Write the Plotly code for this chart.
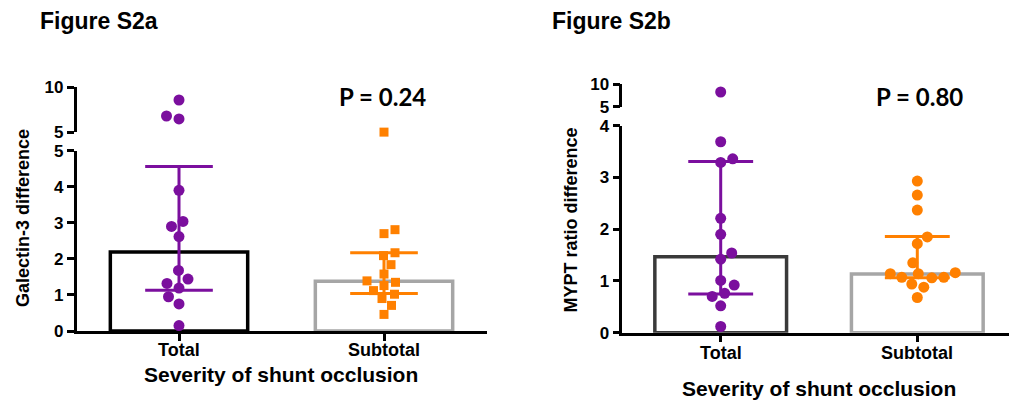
import plotly.graph_objects as go

# ---------------- data ----------------
categories = ["Total", "Subtotal"]

total_a = [8.59, 6.81, 6.48, 3.90, 3.04, 2.90, 2.62, 1.68, 1.44, 1.32, 1.19, 0.95, 0.75, 0.15]
subtotal_a = [5.02, 2.81, 2.70, 2.17, 2.09, 1.84, 1.58, 1.39, 1.35, 1.26, 1.12, 1.02, 0.90, 0.71, 0.46]
bars_a = [2.19, 1.38]
err_lo_a = [1.13, 1.04]
err_hi_a = [4.56, 2.17]

total_b = [8.24, 3.69, 3.36, 3.29, 2.21, 1.90, 1.54, 1.42, 1.01, 0.92, 0.76, 0.70, 0.52, 0.12]
subtotal_b = [2.93, 2.66, 2.37, 1.85, 1.72, 1.35, 1.16, 1.14, 1.14, 1.07, 1.07, 1.06, 0.94, 0.88, 0.68]
bars_b = [1.47, 1.135]
err_lo_b = [0.75, 1.06]
err_hi_b = [3.31, 1.86]

lower_ticks_a = [0, 1, 2, 3, 4, 5]
lower_ticks_b = [0, 1, 2, 3, 4]
upper_ticks = [5, 10]

p_values = ["P = 0.24", "P = 0.80"]
panel_titles = ["Figure S2a", "Figure S2b"]
y_titles = ["Galectin-3 difference", "MYPT ratio difference"]
x_title = "Severity of shunt occlusion"

# ---------------- layout constants (pixels) ----------------
W, H = 1009, 400
PURPLE = "#7b0f9e"
ORANGE = "#ff8000"
FONT = "Arial, Liberation Sans, sans-serif"

panels = [
    dict(x0=76.5, x1=486.5, cat_px=205.0,
         low=(331.0, 150.7, 0, 5), up=(132.3, 87.3, 5, 10),
         lticks=lower_ticks_a, total=total_a, sub=subtotal_a,
         bars=bars_a, lo=err_lo_a, hi=err_hi_a,
         bar_colors=["#000000", "#a6a6a6"], sub_symbol="square",
         ytitle_pos=(23, 218), xtick_y=350, xtitle_pos=(280.5, 374), p_pos=(382, 96),
         title_pos=(37.5, 21)),
    dict(x0=622.4, x1=1009.0, cat_px=196.6,
         low=(332.7, 125.7, 0, 4), up=(106.7, 84.0, 5, 10),
         lticks=lower_ticks_b, total=total_b, sub=subtotal_b,
         bars=bars_b, lo=err_lo_b, hi=err_hi_b,
         bar_colors=["#3a3a3a", "#a6a6a6"], sub_symbol="circle",
         ytitle_pos=(570.5, 220), xtick_y=353, xtitle_pos=(818.5, 388), p_pos=(919, 96),
         title_pos=(550, 21)),
]


def ypx(v, p):
    if v > p["low"][3]:
        b, t, lo, hi = p["up"]
    else:
        b, t, lo, hi = p["low"]
    return b - (v - lo) / (hi - lo) * (b - t)


def swarm(values, p, diam):
    order = sorted(range(len(values)), key=lambda i: values[i])
    placed = []
    offs = [0.0] * len(values)
    for n, i in enumerate(order):
        y = ypx(values[i], p)
        pref = (-1, 1) if n % 2 == 0 else (1, -1)
        best = None
        for k in range(0, 400):
            sides = (1,) if k == 0 else pref
            for s in sides:
                dx = s * k * 0.5
                if all((dx - qx) ** 2 + (y - qy) ** 2 >= diam * diam for qx, qy in placed):
                    best = dx
                    break
            if best is not None:
                break
        placed.append((best, y))
        offs[i] = best / p["cat_px"]
    return offs


fig = go.Figure()
layout = dict(width=W, height=H, margin=dict(l=0, r=0, t=0, b=0, pad=0),
              paper_bgcolor="white", plot_bgcolor="white", showlegend=False)
annotations = []

axis_common = dict(showline=True, linecolor="black", linewidth=2.5, ticks="outside",
                   ticklen=7, tickwidth=2.5, tickcolor="black", showgrid=False,
                   zeroline=False, fixedrange=True, automargin=False)

for idx, p in enumerate(panels):
    xn = "x" if idx == 0 else "x2"
    yl = "y" if idx == 0 else "y3"
    yu = "y2" if idx == 0 else "y4"
    xkey = "xaxis" if idx == 0 else "xaxis2"
    ylkey = "yaxis" if idx == 0 else "yaxis3"
    yukey = "yaxis2" if idx == 0 else "yaxis4"

    xr_max = -0.5 + (p["x1"] - p["x0"]) / p["cat_px"]
    layout[xkey] = dict(domain=[p["x0"] / W, p["x1"] / W], range=[-0.5, xr_max], anchor=yl,
                        tickvals=list(range(len(categories))), showticklabels=False,
                        **axis_common)
    b, t, lo, hi = p["low"]
    layout[ylkey] = dict(domain=[1 - b / H, 1 - t / H], range=[lo, hi], anchor=xn,
                         tickvals=p["lticks"], ticktext=[str(v) for v in p["lticks"]],
                         tickfont=dict(family=FONT, size=17, color="black", weight="bold"),
                         **axis_common)
    b, t, lo, hi = p["up"]
    layout[yukey] = dict(domain=[1 - b / H, 1 - t / H], range=[lo, hi], anchor=xn,
                         tickvals=upper_ticks, ticktext=[str(v) for v in upper_ticks],
                         tickfont=dict(family=FONT, size=17, color="black", weight="bold"),
                         **axis_common)

    # bars
    fig.add_trace(go.Bar(x=list(range(len(categories))), y=p["bars"], width=0.67,
                         marker=dict(color="white", line=dict(color=p["bar_colors"], width=3.5)),
                         xaxis=xn, yaxis=yl, hoverinfo="skip"))

    # error bars
    colors = [PURPLE, ORANGE]
    for c in range(len(categories)):
        cap = 0.165
        ex = [c, c, None, c - cap, c + cap, None, c - cap, c + cap]
        ey = [p["lo"][c], p["hi"][c], None, p["lo"][c], p["lo"][c], None, p["hi"][c], p["hi"][c]]
        fig.add_trace(go.Scatter(x=ex, y=ey, mode="lines", line=dict(color=colors[c], width=3),
                                 xaxis=xn, yaxis=yl, hoverinfo="skip"))

    # points
    is_sq = p["sub_symbol"] == "square"
    groups = [(p["total"], PURPLE, "circle", 11, 12.5),
              (p["sub"], ORANGE, p["sub_symbol"], 9 if is_sq else 11, 11.5 if is_sq else 12.0)]
    for c, (vals, col, sym, size, diam) in enumerate(groups):
        offs = swarm(vals, p, diam)
        brk = p["low"][3]
        lx = [c + o for v, o in zip(vals, offs) if v <= brk]
        ly = [v for v in vals if v <= brk]
        ux = [c + o for v, o in zip(vals, offs) if v > brk]
        uy = [v for v in vals if v > brk]
        fig.add_trace(go.Scatter(x=lx, y=ly, mode="markers", marker=dict(color=col, symbol=sym, size=size),
                                 xaxis=xn, yaxis=yl, cliponaxis=False))
        if ux:
            fig.add_trace(go.Scatter(x=ux, y=uy, mode="markers", marker=dict(color=col, symbol=sym, size=size),
                                     xaxis=xn, yaxis=yu, cliponaxis=False))

    # category tick labels
    for c, name in enumerate(categories):
        annotations.append(dict(text=name, x=c, xref=xn, y=1 - p["xtick_y"] / H, yref="paper",
                                xanchor="center", yanchor="middle", showarrow=False,
                                font=dict(family=FONT, size=18, color="black", weight="bold")))

    # text
    tx, ty = p["title_pos"]
    annotations.append(dict(text=panel_titles[idx], x=tx / W, y=1 - ty / H, xref="paper", yref="paper",
                            xanchor="left", yanchor="middle", showarrow=False,
                            font=dict(family=FONT, size=23, color="black", weight="bold")))
    px_, py_ = p["p_pos"]
    annotations.append(dict(text=p_values[idx], x=px_ / W, y=1 - py_ / H, xref="paper", yref="paper",
                            xanchor="center", yanchor="middle", showarrow=False,
                            font=dict(family="Lato, Carlito, sans-serif", size=24, color="black", weight="bold")))
    yx, yy = p["ytitle_pos"]
    annotations.append(dict(text=y_titles[idx], x=yx / W, y=1 - yy / H, xref="paper", yref="paper",
                            xanchor="center", yanchor="middle", textangle=-90, showarrow=False,
                            font=dict(family=FONT, size=18, color="black", weight="bold")))
    xx, xy = p["xtitle_pos"]
    annotations.append(dict(text=x_title, x=xx / W, y=1 - xy / H, xref="paper", yref="paper",
                            xanchor="center", yanchor="middle", showarrow=False,
                            font=dict(family=FONT, size=21, color="black", weight="bold")))

layout["annotations"] = annotations
fig.update_layout(**layout)
fig.write_html("out.html", config={"displayModeBar": False},
               post_script="document.body.style.margin='0';document.body.style.overflow='hidden';")
